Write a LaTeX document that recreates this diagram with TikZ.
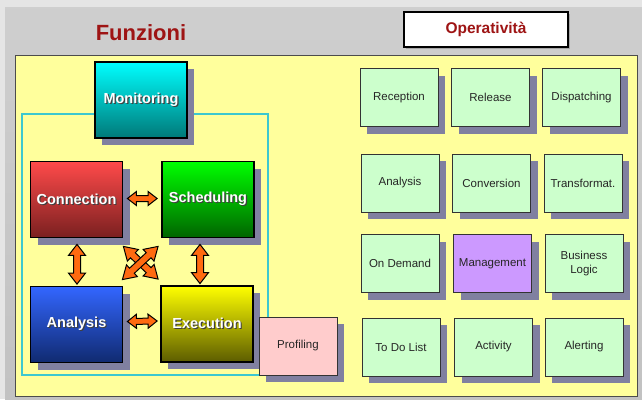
\documentclass[tikz,border=0pt]{standalone}
\usepackage{fontspec}
\setmainfont{Liberation Sans}
\usetikzlibrary{shadows,calc}
\definecolor{shadowc}{HTML}{8080A0}
\definecolor{panel}{HTML}{FFFF9C}
\definecolor{lgreen}{HTML}{CCFFCC}
\definecolor{lviolet}{HTML}{CC99FF}
\definecolor{lpink}{HTML}{FFCCCC}
\definecolor{boxline}{HTML}{333333}
\definecolor{txt}{HTML}{262626}
\definecolor{titlered}{HTML}{9E1414}
\definecolor{frame}{HTML}{3CC8D0}
\definecolor{arrowfill}{HTML}{FF6A10}
\newcommand\wtxt[1]{\rlap{\kern1.2pt\raisebox{-1.2pt}{\textcolor{black!75}{#1}}}#1}
\newcommand\blockarrow[5]{%
  \path (#1); \pgfgetlastxy{\bax}{\bay}%
  \path (#2); \pgfgetlastxy{\bbx}{\bby}%
  \pgfmathsetmacro\bang{atan2(\bby-\bay,\bbx-\bax)}%
  \pgfmathsetmacro\blen{veclen(\bbx-\bax,\bby-\bay)}%
  \draw[blockarr, shift={(\bax,\bay)}, rotate=\bang]
    (0pt,0pt) -- (#5pt,#4pt) -- (#5pt,#3pt) -- ({\blen pt-#5pt},#3pt)
    -- ({\blen pt-#5pt},#4pt) -- (\blen pt,0pt) -- ({\blen pt-#5pt},-#4pt)
    -- ({\blen pt-#5pt},-#3pt) -- (#5pt,-#3pt) -- (#5pt,-#4pt) -- cycle;%
}
\tikzset{
  shad/.style={drop shadow={shadow xshift=7pt, shadow yshift=-7pt, fill=shadowc, opacity=1}},
  fbox/.style={shad, draw=black, line width=1.8pt, minimum width=92pt, minimum height=76pt,
    inner sep=0pt, font=\bfseries\fontsize{14.5}{16}\selectfont, text=white},
  obox/.style={shad, draw=boxline, line width=0.8pt, fill=lgreen, minimum width=78pt,
    minimum height=58pt, inner sep=0pt, font=\fontsize{11.5}{13.5}\selectfont, text=txt, align=center},
  blockarr/.style={draw=black, fill=arrowfill, line width=1pt, line join=miter},
}
\begin{document}
\begin{tikzpicture}[x=1pt,y=-1pt]
\useasboundingbox (0,0) rectangle (642,399);
% background
\fill[gray!20] (0,0) rectangle (642,399);
\shade[top color=gray!38, bottom color=gray!48] (5,7) rectangle (642,399);
% panel
\draw[fill=panel, draw=gray!60!black, line width=0.8pt] (15,55) rectangle (637,396);
% titles
\node[font=\bfseries\fontsize{22}{24}\selectfont, text=titlered] (title) at (141,33) {Funzioni};
\node[draw=black, line width=1.8pt, fill=white, minimum width=164pt, minimum height=35pt,
  inner sep=0pt, font=\bfseries\fontsize{15.5}{17}\selectfont, text=titlered,
  drop shadow={shadow xshift=2pt, shadow yshift=-2pt, fill=gray!70, opacity=1}]
  (oper) at (486,29.5) {Operatività};
% cyan frame
\draw[frame, line width=2pt] (22,114) rectangle (268,375);
% function boxes
\node[fbox, top color=cyan, bottom color={rgb,255:red,0;green,120;blue,120}] (mon) at (141,100) {\wtxt{Monitoring}};
\node[fbox, top color={rgb,255:red,255;green,74;blue,74}, bottom color={rgb,255:red,122;green,32;blue,32}] (conn) at (76.5,199.5) {\wtxt{Connection}};
\node[fbox, top color={rgb,255:red,0;green,255;blue,0}, bottom color={rgb,255:red,0;green,100;blue,0}] (sched) at (208,199.5) {\wtxt{Scheduling}};
\node[fbox, top color={rgb,255:red,51;green,102;blue,255}, bottom color={rgb,255:red,16;green,42;blue,112}] (ana) at (76.5,324.5) {\wtxt{Analysis}};
\node[fbox, top color={rgb,255:red,255;green,255;blue,0}, bottom color={rgb,255:red,92;green,92;blue,0}] (exe) at (207,324) {\wtxt{Execution}};
\node[obox, fill=lpink] (prof) at (298,346) {Profiling};
% arrows
\blockarrow{$(conn.east)+(4,-1)$}{$(sched.west)+(-4,-1)$}{3}{7}{9}
\blockarrow{$(ana.east)+(4,-3)$}{$(exe.west)+(-3,-3)$}{3}{7}{9}
\blockarrow{$(conn.south)+(0.5,6)$}{$(ana.north)+(0.5,-1.5)$}{3.5}{8.5}{11}
\blockarrow{$(sched.south)+(-8,6)$}{$(exe.north)+(-7,-1.5)$}{3.5}{8.5}{11}
\blockarrow{$(conn.south east)+(0,8)$}{$(exe.north west)+(-2,-6)$}{3.5}{8}{13}
\blockarrow{$(sched.south west)+(-3,8)$}{$(ana.north east)+(-1,-6)$}{3.5}{8}{13}
% operativita boxes
\node[obox] (rec) at (399,97.5) {Reception};
\node[obox] (rel) at (490.5,97.5) {Release};
\node[obox] (dis) at (581.5,97.5) {Dispatching};
\node[obox] (ana2) at (400,183) {Analysis};
\node[obox] (conv) at (491.5,183) {Conversion};
\node[obox] (trans) at (583,183) {Transformat.};
\node[obox] (ond) at (400,263.5) {On Demand};
\node[obox, fill=lviolet] (man) at (492.5,263.5) {Management};
\node[obox] (bus) at (584,263.5) {Business\\Logic};
\node[obox] (todo) at (401,347) {To Do List};
\node[obox] (act) at (493.5,347) {Activity};
\node[obox] (ale) at (584,347) {Alerting};
\end{tikzpicture}
\end{document}
